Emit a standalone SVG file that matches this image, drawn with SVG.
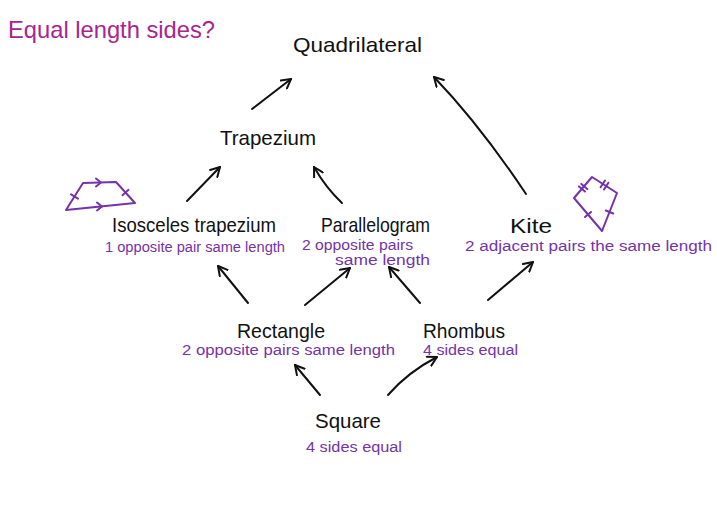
<svg xmlns="http://www.w3.org/2000/svg" width="717" height="520" viewBox="0 0 717 520">
<style>
.t{font-family:"Liberation Sans",Arial,sans-serif;font-size:21px;fill:#111}
.s{font-family:"Liberation Sans",Arial,sans-serif;font-size:14px;fill:#7433a8}
.h{font-family:"Liberation Sans",Arial,sans-serif;font-size:24px;fill:#a8248f}
.c{fill:none;stroke:#111;stroke-width:2;stroke-linecap:round;stroke-linejoin:round}
.p{fill:none;stroke:#7433a8;stroke-width:2;stroke-linecap:round;stroke-linejoin:round}
</style>
<defs>
<marker id="a" viewBox="0 0 12 12" refX="10" refY="6" markerWidth="12" markerHeight="12" markerUnits="userSpaceOnUse" orient="auto">
<path d="M1,1 L10,6 L1,11" fill="none" stroke="#111" stroke-width="2" stroke-linecap="round" stroke-linejoin="round"/>
</marker>
</defs>
<rect width="717" height="520" fill="#fff"/>
<text class="h" x="8" y="38" textLength="207" lengthAdjust="spacingAndGlyphs">Equal length sides?</text>
<g id="quadrilateral"><text class="t" x="293" y="52" textLength="129" lengthAdjust="spacingAndGlyphs">Quadrilateral</text></g>
<g id="trapezium"><text class="t" x="220" y="145" textLength="96" lengthAdjust="spacingAndGlyphs">Trapezium</text></g>
<g id="isosceles">
<text class="t" x="112" y="232" textLength="164" lengthAdjust="spacingAndGlyphs">Isosceles trapezium</text>
<text class="s" x="105" y="252" textLength="180" lengthAdjust="spacingAndGlyphs">1 opposite pair same length</text>
<path class="p" d="M83,183 L116,182 L135,203 L66,210 Z"/>
<path class="p" d="M96,178.5 L101,182.5 L96,186.5 M97,202.5 L102,206.5 L97,210.5 M71,194.4 L78,198.6 M122.5,195.2 L128.5,189.8"/>
</g>
<g id="parallelogram">
<text class="t" x="321" y="232" textLength="109" lengthAdjust="spacingAndGlyphs">Parallelogram</text>
<text class="s" x="302" y="250" textLength="111" lengthAdjust="spacingAndGlyphs">2 opposite pairs</text>
<text class="s" x="335" y="265" textLength="95" lengthAdjust="spacingAndGlyphs">same length</text>
</g>
<g id="kite">
<text class="t" x="510" y="233" textLength="42" lengthAdjust="spacingAndGlyphs">Kite</text>
<text class="s" x="465" y="251" textLength="247" lengthAdjust="spacingAndGlyphs">2 adjacent pairs the same length</text>
<path class="p" d="M574,198 L592,177 L617,193 L602,231 Z"/>
<path class="p" d="M579,186.4 L585,191.6 M581.3,183.9 L587.3,189.1 M600.6,187.3 L605,180.5 M604,189.5 L608.4,182.7 M605.8,210.5 L613.2,213.5 M585,217 L591,212"/>
</g>
<g id="rectangle">
<text class="t" x="237" y="338" textLength="88" lengthAdjust="spacingAndGlyphs">Rectangle</text>
<text class="s" x="182" y="355" textLength="213" lengthAdjust="spacingAndGlyphs">2 opposite pairs same length</text>
</g>
<g id="rhombus">
<text class="t" x="423" y="338" textLength="82" lengthAdjust="spacingAndGlyphs">Rhombus</text>
<text class="s" x="423" y="355" textLength="95" lengthAdjust="spacingAndGlyphs">4 sides equal</text>
</g>
<g id="square">
<text class="t" x="315" y="428" textLength="66" lengthAdjust="spacingAndGlyphs">Square</text>
<text class="s" x="306" y="452" textLength="96" lengthAdjust="spacingAndGlyphs">4 sides equal</text>
</g>
<g id="connectors">
<path class="c" marker-end="url(#a)" d="M252,109 L291,79"/>
<path class="c" marker-end="url(#a)" d="M187,201 L220,167"/>
<path class="c" marker-end="url(#a)" d="M342,203 Q326,188 314,167"/>
<path class="c" marker-end="url(#a)" d="M526,194 Q480,125 434,77"/>
<path class="c" marker-end="url(#a)" d="M248,303 L218,266"/>
<path class="c" marker-end="url(#a)" d="M305,305 L350,268"/>
<path class="c" marker-end="url(#a)" d="M420,303 L389,267"/>
<path class="c" marker-end="url(#a)" d="M488,300 L533,262"/>
<path class="c" marker-end="url(#a)" d="M320,395 L295,365"/>
<path class="c" marker-end="url(#a)" d="M388,395 Q408,372 437,357"/>
</g>
</svg>
